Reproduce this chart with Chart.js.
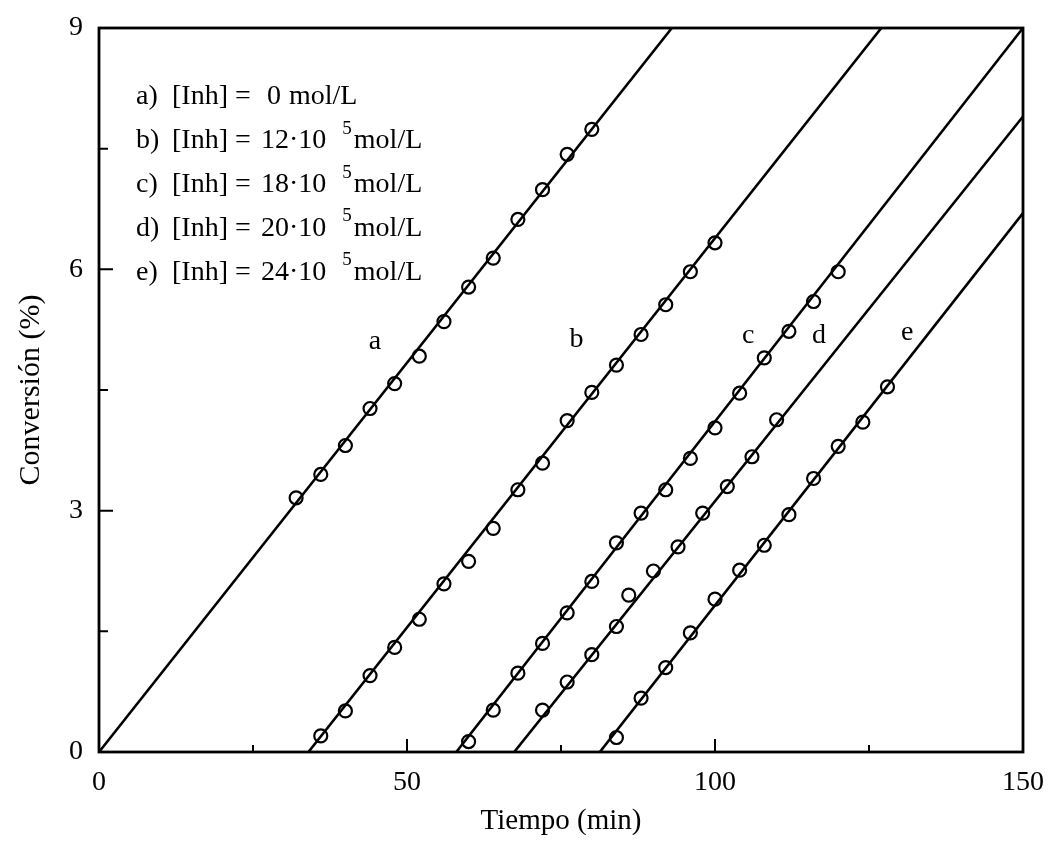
<!DOCTYPE html>
<html>
<head>
<meta charset="utf-8">
<script src="https://cdn.jsdelivr.net/npm/chart.js@4.4.0/dist/chart.umd.min.js"></script>
<style>
  html, body { margin: 0; padding: 0; background: #fff; }
</style>
</head>
<body>
<canvas id="chart" width="1048" height="851"></canvas>
<script>
// measured points (tiempo, min / conversión, %)
const timeA = [32, 36, 40, 44, 48, 52, 56, 60, 64, 68, 72, 76, 80];
const convA = [3.16, 3.45, 3.81, 4.27, 4.58, 4.92, 5.35, 5.78, 6.14, 6.62, 6.99, 7.43, 7.74];
const timeB = [36, 40, 44, 48, 52, 56, 60, 64, 68, 72, 76, 80, 84, 88, 92, 96, 100];
const convB = [0.20, 0.51, 0.95, 1.30, 1.65, 2.09, 2.37, 2.78, 3.26, 3.59, 4.12, 4.47, 4.81, 5.19, 5.56, 5.97, 6.33];
const timeC = [60, 64, 68, 72, 76, 80, 84, 88, 92, 96, 100, 104, 108, 112, 116, 120];
const convC = [0.13, 0.52, 0.98, 1.35, 1.73, 2.12, 2.60, 2.97, 3.26, 3.65, 4.03, 4.46, 4.90, 5.23, 5.60, 5.97];
const timeD = [72, 76, 80, 84, 86, 90, 94, 98, 102, 106, 110];
const convD = [0.52, 0.87, 1.21, 1.56, 1.95, 2.25, 2.55, 2.97, 3.30, 3.67, 4.13];
const timeE = [84, 88, 92, 96, 100, 104, 108, 112, 116, 120, 124, 128];
const convE = [0.18, 0.67, 1.05, 1.48, 1.90, 2.26, 2.57, 2.95, 3.40, 3.80, 4.10, 4.54];

// fitted straight lines (end points)
const fitTimeA = [0, 93];     const fitConvA = [0, 9];
const fitTimeB = [34, 127];   const fitConvB = [0, 9];
const fitTimeC = [58, 150];   const fitConvC = [0, 9];
const fitTimeD = [67.4, 150]; const fitConvD = [0, 7.9];
const fitTimeE = [81.3, 150]; const fitConvE = [0, 6.7];

// curve letters and where they sit
const curveNames = ['a', 'b', 'c', 'd', 'e'];
const curveNameTime = [44.8, 77.5, 105.4, 116.9, 131.2];
const curveNameConv = [5.10, 5.12, 5.17, 5.17, 5.21];

// legend text
const legendKeys = ['a)', 'b)', 'c)', 'd)', 'e)'];
const legendConc = ['0', '12·10', '18·10', '20·10', '24·10'];
const legendExp = ['', '5', '5', '5', '5'];

const xMinorTicks = [25, 75, 125];
const xMajorTicks = [50, 100];
const yMinorTicks = [1.5, 4.5, 7.5];
const yMajorTicks = [3, 6];

const SERIF = "'Liberation Serif', 'Times New Roman', serif";

const pts = (t, y) => t.map((v, i) => ({ x: v, y: y[i] }));

function markers(t, y) {
    return {
        data: pts(t, y),
        showLine: false,
        pointStyle: 'circle',
        pointRadius: 6.5,
        pointBorderWidth: 2.2,
        pointBorderColor: '#000',
        pointBackgroundColor: 'rgba(255,255,255,0)',
    };
}

function fitLine(t, y) {
    return {
        data: pts(t, y),
        showLine: true,
        borderColor: '#000',
        borderWidth: 2.6,
        pointRadius: 0,
        tension: 0,
    };
}

// frame, inward ticks, legend block and curve letters
const decorations = {
    id: 'decorations',
    beforeDatasetsDraw(chart) {
        const { ctx, chartArea: a, scales: { x, y } } = chart;
        ctx.save();
        ctx.strokeStyle = '#000';
        ctx.lineWidth = 2.8;
        ctx.strokeRect(a.left, a.top, a.right - a.left, a.bottom - a.top);
        ctx.lineWidth = 2;
        ctx.beginPath();
        yMajorTicks.forEach(v => { const p = y.getPixelForValue(v); ctx.moveTo(a.left, p); ctx.lineTo(a.left + 14, p); });
        yMinorTicks.forEach(v => { const p = y.getPixelForValue(v); ctx.moveTo(a.left, p); ctx.lineTo(a.left + 9, p); });
        xMajorTicks.forEach(v => { const p = x.getPixelForValue(v); ctx.moveTo(p, a.bottom); ctx.lineTo(p, a.bottom - 13); });
        xMinorTicks.forEach(v => { const p = x.getPixelForValue(v); ctx.moveTo(p, a.bottom); ctx.lineTo(p, a.bottom - 7); });
        ctx.stroke();
        ctx.restore();
    },
    afterDraw(chart) {
        const { ctx, scales: { x, y } } = chart;
        ctx.save();
        ctx.fillStyle = '#000';
        ctx.textBaseline = 'middle';
        ctx.font = `28px ${SERIF}`;
        ctx.textAlign = 'center';
        curveNames.forEach((n, i) => {
            ctx.fillText(n, x.getPixelForValue(curveNameTime[i]), y.getPixelForValue(curveNameConv[i]));
        });

        ctx.textAlign = 'left';
        legendKeys.forEach((k, i) => {
            const ly = 97 + i * 43.8;
            ctx.font = `28px ${SERIF}`;
            ctx.fillText(k, 136, ly);
            ctx.fillText('[Inh] =', 172, ly);
            let cx = legendExp[i] ? 261 : 267;
            ctx.fillText(legendConc[i], cx, ly);
            cx += ctx.measureText(legendConc[i]).width;
            if (legendExp[i]) {
                cx += 16;
                ctx.font = `19px ${SERIF}`;
                ctx.fillText(legendExp[i], cx, ly - 12);
                cx += ctx.measureText(legendExp[i]).width + 2;
                ctx.font = `28px ${SERIF}`;
            } else {
                cx += 8;
            }
            ctx.fillText('mol/L', cx, ly);
        });
        ctx.restore();
    },
};

const ctx = document.getElementById('chart').getContext('2d');

new Chart(ctx, {
    type: 'scatter',
    data: {
        datasets: [
            fitLine(fitTimeA, fitConvA), markers(timeA, convA),
            fitLine(fitTimeB, fitConvB), markers(timeB, convB),
            fitLine(fitTimeC, fitConvC), markers(timeC, convC),
            fitLine(fitTimeD, fitConvD), markers(timeD, convD),
            fitLine(fitTimeE, fitConvE), markers(timeE, convE),
        ],
    },
    options: {
        responsive: false,
        animation: false,
        layout: { padding: { left: 0, right: 25, top: 28, bottom: 0 } },
        plugins: {
            legend: { display: false },
            tooltip: { enabled: false },
        },
        scales: {
            x: {
                type: 'linear',
                min: 0,
                max: 150,
                afterFit: s => { s.height = 99; s.paddingLeft = 0; s.paddingRight = 0; },
                grid: { display: false, drawTicks: false },
                border: { display: false },
                ticks: {
                    stepSize: 50,
                    color: '#000',
                    padding: 14,
                    font: { family: SERIF, size: 28 },
                },
                title: {
                    display: true,
                    text: 'Tiempo (min)',
                    color: '#000',
                    font: { family: SERIF, size: 29 },
                    padding: { top: 0, bottom: 12 },
                },
            },
            y: {
                type: 'linear',
                min: 0,
                max: 9,
                afterFit: s => { s.width = 99; s.paddingTop = 0; s.paddingBottom = 0; },
                grid: { display: false, drawTicks: false },
                border: { display: false },
                ticks: {
                    stepSize: 3,
                    color: '#000',
                    padding: 16,
                    font: { family: SERIF, size: 28 },
                },
                title: {
                    display: true,
                    text: 'Conversión (%)',
                    color: '#000',
                    font: { family: SERIF, size: 30 },
                    padding: { top: 13, bottom: 0 },
                },
            },
        },
    },
    plugins: [decorations],
});
</script>
</body>
</html>
